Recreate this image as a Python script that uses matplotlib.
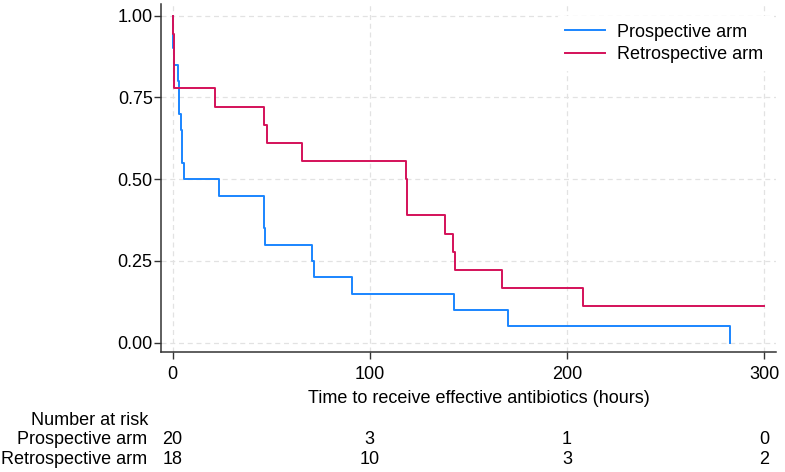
import matplotlib
matplotlib.use("Agg")
from matplotlib import pyplot as plt

plt.rcParams['font.family'] = ['Liberation Sans', 'DejaVu Sans']

# Kaplan-Meier steps (time in hours, survival)
pro_times = [0, 0.1, 0.7, 2.9, 3.4, 4.2, 4.9, 5.9, 23.3, 46.3, 47.0, 70.5, 71.6, 91.0, 142.5, 170.0, 283.0]
pro_surv = [1.0, 0.90, 0.85, 0.80, 0.70, 0.65, 0.55, 0.50, 0.45, 0.35, 0.30, 0.25, 0.20, 0.15, 0.10, 0.05, 0.0]

retro_times = [0, 0.3, 0.9, 21.5, 46.5, 48.0, 65.6, 118.2, 118.7, 138.2, 142.1, 143.2, 166.9, 208.3, 300.0]
retro_surv = [1.0, 0.944, 0.778, 0.722, 0.667, 0.611, 0.556, 0.500, 0.389, 0.333, 0.278, 0.222, 0.167, 0.111, 0.111]

# number at risk table
risk_times = [0, 100, 200, 300]
pro_risk = [20, 3, 1, 0]
retro_risk = [18, 10, 3, 2]

blue = "#1A85FF"
red = "#D41159"
fs = 13

fig = plt.figure(figsize=(7.85, 4.72), dpi=100)
ax = fig.add_axes([161 / 785, 1 - 352 / 472, 615 / 785, 348 / 472])

ax.step(pro_times, pro_surv, where="post", color=blue, lw=1.4, label="Prospective arm")
ax.step(retro_times, retro_surv, where="post", color=red, lw=1.4, label="Retrospective arm")

ax.set_xlim(-5.9, 306.1)
ax.set_ylim(-0.0285, 1.0358)
ax.set_xticks(risk_times)
ax.set_yticks([0, 0.25, 0.5, 0.75, 1.0])
ax.set_yticklabels(["0.00", "0.25", "0.50", "0.75", "1.00"])
ax.tick_params(labelsize=fs, length=5, width=1.0, color="#333333")
ax.tick_params(axis="y", pad=1)
ax.tick_params(axis="x", pad=5)

ax.grid(True, color="#E2E2E2", linestyle=(0, (4, 3)), lw=0.9)
ax.set_axisbelow(True)
for s in ["top", "right"]:
    ax.spines[s].set_visible(False)
for s in ["left", "bottom"]:
    ax.spines[s].set_color("#333333")
    ax.spines[s].set_linewidth(1.1)

ax.set_xlabel("Time to receive effective antibiotics (hours)", fontsize=fs)
ax.xaxis.set_label_coords(0.517, -0.11)

leg = ax.legend(loc="upper right", fontsize=fs, frameon=True, framealpha=1,
                edgecolor="white", facecolor="white", handlelength=2.2,
                handletextpad=0.7, borderaxespad=0.3, labelspacing=0.3,
                fancybox=False, bbox_to_anchor=(1.0, 0.98))

# risk table
fig.text(148 / 785, 1 - 425 / 472, "Number at risk", ha="right", va="baseline", fontsize=fs)
fig.text(147 / 785, 1 - 444.5 / 472, "Prospective arm", ha="right", va="baseline", fontsize=fs)
fig.text(147 / 785, 1 - 464 / 472, "Retrospective arm", ha="right", va="baseline", fontsize=fs)
for t, a, b in zip(risk_times, pro_risk, retro_risk):
    xf = fig.transFigure.inverted().transform(ax.transData.transform((t, 0)))[0]
    fig.text(xf, 1 - 444.5 / 472, str(a), ha="center", va="baseline", fontsize=fs)
    fig.text(xf, 1 - 464 / 472, str(b), ha="center", va="baseline", fontsize=fs)

fig.savefig("out.png", dpi=100)
